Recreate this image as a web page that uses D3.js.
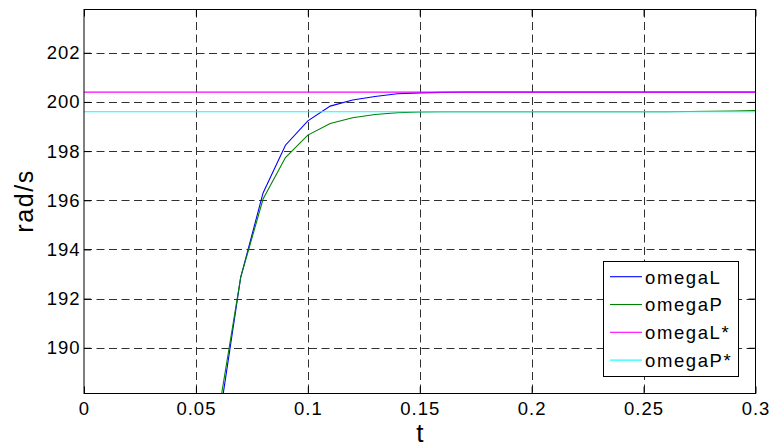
<!DOCTYPE html>
<html>
<head>
<meta charset="utf-8">
<script src="https://cdn.jsdelivr.net/npm/d3@7"></script>
<style>
  html, body { margin: 0; padding: 0; background: #fff; }
  svg { display: block; }
  text { font-family: "Liberation Sans", Arial, sans-serif; fill: #000; }
</style>
</head>
<body>
<svg id="chart" width="771" height="448"></svg>
<script>
// ---- data ----
const tValues      = [0.06, 0.07, 0.08, 0.09, 0.10, 0.11, 0.12, 0.13, 0.14, 0.15, 0.16, 0.17, 0.18, 0.19, 0.20, 0.21, 0.22, 0.23, 0.24, 0.25, 0.26, 0.27, 0.28, 0.29, 0.30];
const omegaL       = [186.8, 192.86, 196.3, 198.24, 199.23, 199.83, 200.08, 200.22, 200.33, 200.37, 200.39, 200.4, 200.4, 200.4, 200.4, 200.4, 200.4, 200.4, 200.4, 200.4, 200.4, 200.4, 200.4, 200.4, 200.4];
const omegaP       = [187.3, 192.86, 196.05, 197.74, 198.65, 199.12, 199.36, 199.49, 199.56, 199.59, 199.6, 199.6, 199.6, 199.6, 199.6, 199.6, 199.6, 199.6, 199.6, 199.6, 199.6, 199.61, 199.62, 199.63, 199.65];
const tRef         = [0, 0.3];
const omegaLStar   = [200.4, 200.4];
const omegaPStar   = [199.6, 199.6];
const seriesNames  = ["omegaL", "omegaP", "omegaL*", "omegaP*"];
const seriesColors = ["#0000ff", "#008000", "#ff00ff", "#00ffff"];
const xTicks       = [0, 0.05, 0.1, 0.15, 0.2, 0.25, 0.3];
const xTickLabels  = ["0", "0.05", "0.1", "0.15", "0.2", "0.25", "0.3"];
const yTicks       = [190, 192, 194, 196, 198, 200, 202];
const xDomain      = [0, 0.3];
const yDomain      = [188.14, 203.76];
const xLabel       = "t";
const yLabel       = "rad/s";

// ---- layout ----
const L = 84, R = 755.5, T = 9.5, B = 393.5;
const svg = d3.select("#chart");
const x = d3.scaleLinear().domain(xDomain).range([L, R]);
const y = d3.scaleLinear().domain(yDomain).range([B, T]);

svg.append("defs").append("clipPath").attr("id", "clip")
  .append("rect").attr("x", L).attr("y", T).attr("width", R - L).attr("height", B - T);

// grid
const grid = svg.append("g").attr("stroke", "#303030").attr("stroke-width", 1)
  .attr("stroke-dasharray", "8,4.5").attr("fill", "none");
xTicks.filter(v => v > xDomain[0] && v < xDomain[1]).forEach(v => {
  const px = Math.round(x(v)) + 0.5;
  grid.append("line").attr("x1", px).attr("x2", px).attr("y1", T).attr("y2", B);
});
yTicks.forEach(v => {
  const py = Math.round(y(v)) + 0.5;
  grid.append("line").attr("x1", L).attr("x2", R).attr("y1", py).attr("y2", py);
});

// series
const series = [
  { t: tValues, v: omegaL },
  { t: tValues, v: omegaP },
  { t: tRef, v: omegaLStar },
  { t: tRef, v: omegaPStar }
];
const line = d3.line().x(d => x(d[0])).y(d => y(d[1]));
const plot = svg.append("g").attr("clip-path", "url(#clip)");
series.forEach((s, i) => {
  plot.append("path")
    .attr("d", line(s.t.map((t, j) => [t, s.v[j]])))
    .attr("fill", "none").attr("stroke", seriesColors[i]).attr("stroke-width", 1.1);
});

// axes frame
svg.append("rect").attr("x", L).attr("y", T).attr("width", R - L).attr("height", B - T)
  .attr("fill", "none").attr("stroke", "#000").attr("stroke-width", 1);

// axes with inward ticks
const tickLen = 7;
const xAxisB = d3.axisBottom(x).tickValues(xTicks).tickFormat((d, i) => xTickLabels[i])
  .tickSizeInner(-tickLen).tickSizeOuter(0).tickPadding(8.5);
const gx = svg.append("g").attr("transform", `translate(0,${B})`).call(xAxisB);
gx.select(".domain").remove();
gx.selectAll("line").attr("stroke", "#000");
gx.selectAll("text").attr("font-size", 18.5).attr("letter-spacing", "1px")
  .attr("font-family", "Liberation Sans, Arial, sans-serif").attr("fill", "#000");

const xAxisT = d3.axisTop(x).tickValues(xTicks).tickFormat("").tickSizeInner(-tickLen).tickSizeOuter(0);
const gxt = svg.append("g").attr("transform", `translate(0,${T})`).call(xAxisT);
gxt.select(".domain").remove();
gxt.selectAll("line").attr("stroke", "#000");

const yAxisL = d3.axisLeft(y).tickValues(yTicks).tickFormat(d3.format("d"))
  .tickSizeInner(-tickLen).tickSizeOuter(0).tickPadding(3.5);
const gy = svg.append("g").attr("transform", `translate(${L},0)`).call(yAxisL);
gy.select(".domain").remove();
gy.selectAll("line").attr("stroke", "#000");
gy.selectAll("text").attr("font-size", 18.5).attr("letter-spacing", "1px")
  .attr("font-family", "Liberation Sans, Arial, sans-serif").attr("fill", "#000");

const yAxisR = d3.axisRight(y).tickValues(yTicks).tickFormat("").tickSizeInner(-tickLen).tickSizeOuter(0);
const gyr = svg.append("g").attr("transform", `translate(${R},0)`).call(yAxisR);
gyr.select(".domain").remove();
gyr.selectAll("line").attr("stroke", "#000");

// axis labels
svg.append("text").attr("x", (L + R) / 2).attr("y", 441.5).attr("text-anchor", "middle")
  .attr("font-size", 26).text(xLabel);
svg.append("text").attr("transform", "translate(33,201) rotate(-90)").attr("text-anchor", "middle")
  .attr("font-size", 25).attr("letter-spacing", "1.6px").text(yLabel);

// legend
const lgX = 603.5, lgY = 261.5, lgW = 135, lgH = 115, rowH = 27.8, row0 = 276.7;
const lg = svg.append("g");
lg.append("rect").attr("x", lgX).attr("y", lgY).attr("width", lgW).attr("height", lgH)
  .attr("fill", "#fff").attr("stroke", "#000").attr("stroke-width", 1);
seriesNames.forEach((name, i) => {
  const cy = row0 + i * rowH;
  lg.append("line").attr("x1", 610).attr("x2", 642).attr("y1", cy).attr("y2", cy)
    .attr("stroke", seriesColors[i]).attr("stroke-width", 1.1);
  lg.append("text").attr("x", 645).attr("y", cy + 6.8).attr("font-size", 18.5)
    .attr("letter-spacing", "1.6px").text(name);
});
</script>
</body>
</html>
